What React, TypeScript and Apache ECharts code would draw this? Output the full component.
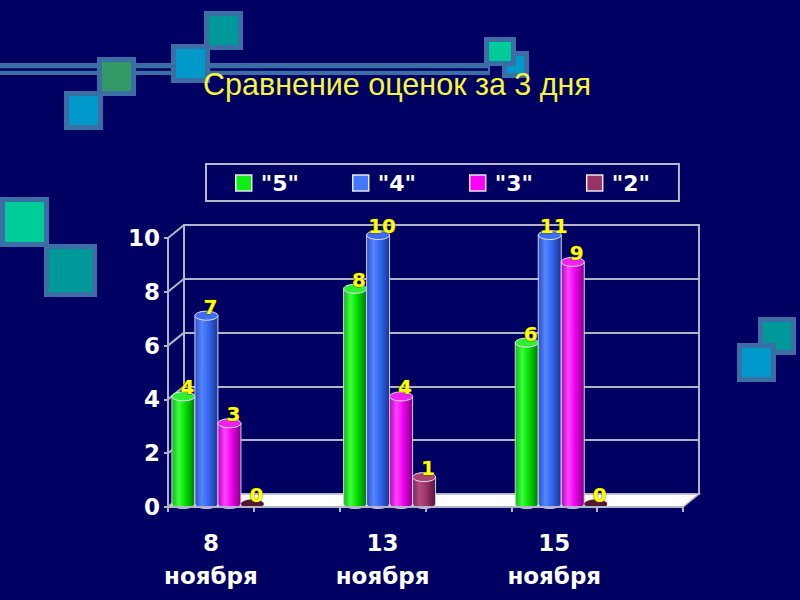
import React, { useEffect, useRef } from "react";
import * as echarts from "echarts";

// ---- data ----
const categories = ["8\nноября", "13\nноября", "15\nноября"];
const seriesNames = ['"5"', '"4"', '"3"', '"2"'];
const grade5 = [4, 8, 6];
const grade4 = [7, 10, 11];
const grade3 = [3, 4, 9];
const grade2 = [0, 1, 0];
const yTicks = [0, 2, 4, 6, 8, 10];
const titleText = "Сравнение оценок за 3 дня";

// ---- layout / style ----
const BG = "#000063";
const GRID_C = "#b4b4c8";
const FRONT = { left: 168, top: 238, width: 515, height: 269 };
const DX = 16;
const DY = 13;
const BAR_W = 23;
const BAR_STEP = 23;
const GROUP_SHIFT = 7;
const BAR_LIFT = 3;
const Y_MAX = 10;
const FONT = '"DejaVu Sans", Verdana, sans-serif';

const palettes = [
  { legend: "#11ee11", body: ["#12b812", "#3cff3c", "#00dd00", "#007800"], top: "#30ee30" },
  { legend: "#4477ff", body: ["#2a4fc4", "#5585ff", "#3366ee", "#1a3390"], top: "#3f6cf5" },
  { legend: "#ff00ff", body: ["#bb00bb", "#ff44ff", "#ee00ee", "#850085"], top: "#f020f0" },
  { legend: "#993366", body: ["#7a2850", "#b04a80", "#993366", "#561636"], top: "#a8446f" },
];
const gradeValues = [grade5, grade4, grade3, grade2];

const slots = categories.flatMap((c) => [c, ""]);

function makeBarSeries(k: number) {
  const p = palettes[k];
  return {
    type: "custom",
    name: seriesNames[k],
    xAxisIndex: 0,
    yAxisIndex: 0,
    z: 3,
    silent: true,
    itemStyle: { color: p.legend },
    data: gradeValues[k].map((v, i) => [i * 2, v]),
    renderItem: (params: any, api: any) => {
      const slot = api.value(0) as number;
      const v = api.value(1) as number;
      const base = api.coord([slot, 0]);
      const top = api.coord([slot, Math.min(v, Y_MAX)]);
      const cx = base[0] + GROUP_SHIFT + (k - 1.5) * BAR_STEP;
      const yb = base[1] - BAR_LIFT;
      const yt = top[1] - BAR_LIFT;
      const rx = BAR_W / 2;
      const ry = 4.5;
      const x1 = cx - rx;
      const x2 = cx + rx;
      const grad = new echarts.graphic.LinearGradient(0, 0, 1, 0, [
        { offset: 0, color: p.body[0] },
        { offset: 0.3, color: p.body[1] },
        { offset: 0.6, color: p.body[2] },
        { offset: 1, color: p.body[3] },
      ]);
      const children: any[] = [];
      if (v > 0) {
        children.push({
          type: "path",
          shape: {
            pathData: `M${x1} ${yt} L${x1} ${yb} A${rx} ${ry} 0 0 0 ${x2} ${yb} L${x2} ${yt} Z`,
          },
          style: { fill: grad, stroke: "#d0d0f0", lineWidth: 1 },
        });
        children.push({
          type: "ellipse",
          shape: { cx, cy: yt, rx, ry },
          style: { fill: p.top, stroke: "#e4e4ff", lineWidth: 1 },
        });
      } else {
        children.push({
          type: "ellipse",
          shape: { cx, cy: yb, rx: rx, ry: 4.5 },
          style: { fill: p.body[3] },
        });
      }
      children.push({
        type: "text",
        style: {
          text: String(v),
          x: cx + 4,
          y: yt - 9,
          align: "center",
          verticalAlign: "middle",
          fill: "#ffff00",
          fontSize: 20,
          fontWeight: "bold",
          fontFamily: FONT,
          stroke: "rgba(70,70,0,0.7)",
          lineWidth: 1,
        },
      });
      return { type: "group", children };
    },
  };
}

function decoSquare(x: number, y: number, w: number, h: number, fill: string) {
  return {
    type: "rect",
    shape: { x: x + 2.5, y: y + 2.5, width: w - 5, height: h - 5 },
    style: { fill, stroke: "#3a6ea5", lineWidth: 5 },
    z: 1,
  };
}

export default function App() {
  const ref = useRef<HTMLDivElement>(null);
  useEffect(() => {
    document.body.style.margin = "0";
    const chart = echarts.init(ref.current!, null, { renderer: "svg" });
    const option: any = {
      animation: false,
      backgroundColor: BG,
      title: {
        text: titleText,
        left: 203,
        top: 68,
        padding: 0,
        z: 10,
        textStyle: {
          color: "#f5f53a",
          fontSize: 30.5,
          fontWeight: "normal",
          fontFamily: '"Liberation Sans", Arial, sans-serif',
        },
      },
      legend: {
        data: seriesNames,
        left: 206,
        top: 164,
        padding: [8, 29, 7, 29],
        borderColor: "#b8b8c8",
        borderWidth: 2,
        itemWidth: 16,
        itemHeight: 16,
        itemGap: 53,
        icon: "rect",
        selectedMode: false,
        itemStyle: { borderColor: "#e8e8e8", borderWidth: 1.5 },
        textStyle: {
          color: "#ffffff",
          fontSize: 22,
          fontWeight: "bold",
          fontFamily: FONT,
          padding: [0, 0, 0, 4],
        },
      },
      graphic: [
        { type: "rect", shape: { x: 0, y: 63, width: 490, height: 12 }, style: { fill: "#3a6ea5" }, z: 0 },
        { type: "rect", shape: { x: 0, y: 68.3, width: 488, height: 2.4 }, style: { fill: BG }, z: 0 },
        decoSquare(204, 11, 39, 39, "#009999"),
        decoSquare(171, 44, 39, 39, "#0099cc"),
        decoSquare(97, 57, 39, 39, "#339966"),
        decoSquare(64, 91, 39, 39, "#0099cc"),
        decoSquare(502, 51, 27, 27, "#0099cc"),
        decoSquare(484, 37, 32, 29, "#00cc99"),
        decoSquare(0, 197, 49, 50, "#00cc99"),
        decoSquare(44, 244, 53, 53, "#009999"),
        decoSquare(758, 317, 38, 38, "#009999"),
        decoSquare(737, 343, 39, 39, "#0099cc"),
      ],
      grid: [
        {
          left: FRONT.left,
          top: FRONT.top,
          width: FRONT.width,
          height: FRONT.height,
          containLabel: false,
          outerBoundsMode: "none",
        },
        {
          left: FRONT.left + DX,
          top: FRONT.top - DY,
          width: FRONT.width,
          height: FRONT.height,
          containLabel: false,
          outerBoundsMode: "none",
          show: true,
          borderColor: GRID_C,
          borderWidth: 2,
          backgroundColor: "transparent",
        },
      ],
      xAxis: [
        {
          gridIndex: 0,
          type: "category",
          data: slots,
          boundaryGap: true,
          z: 5,
          axisLine: { show: true, lineStyle: { color: GRID_C, width: 2 } },
          axisTick: { show: true, interval: 0, length: 5, lineStyle: { color: GRID_C, width: 2 } },
          axisLabel: {
            interval: 0,
            color: "#ffffff",
            fontSize: 23,
            fontWeight: "bold",
            fontFamily: FONT,
            lineHeight: 33,
            margin: 19,
          },
          splitLine: { show: false },
        },
        { gridIndex: 1, type: "category", data: slots, show: false },
      ],
      yAxis: [
        {
          gridIndex: 0,
          type: "value",
          min: 0,
          max: Y_MAX,
          interval: 2,
          z: 5,
          axisLine: { show: true, lineStyle: { color: GRID_C, width: 2 } },
          axisTick: { show: true, length: 4, lineStyle: { color: GRID_C, width: 2 } },
          splitLine: { show: false },
          axisLabel: { color: "#ffffff", fontSize: 23, fontWeight: "bold", fontFamily: FONT, margin: 8 },
        },
        {
          gridIndex: 1,
          type: "value",
          min: 0,
          max: Y_MAX,
          interval: 2,
          axisLine: { show: false },
          axisTick: { show: false },
          axisLabel: { show: false },
          splitLine: { show: true, lineStyle: { color: GRID_C, width: 2 } },
        },
      ],
      series: [
        {
          type: "custom",
          name: "floor",
          xAxisIndex: 0,
          yAxisIndex: 0,
          z: 1,
          silent: true,
          data: [[0, 0]],
          renderItem: (params: any) => {
            const cs = params.coordSys;
            const yb = cs.y + cs.height;
            return {
              type: "polygon",
              shape: {
                points: [
                  [cs.x, yb],
                  [cs.x + cs.width, yb],
                  [cs.x + cs.width + DX, yb - DY],
                  [cs.x + DX, yb - DY],
                ],
              },
              style: { fill: "#ffffff", stroke: GRID_C, lineWidth: 1.5 },
            };
          },
        },
        {
          type: "custom",
          name: "connectors",
          xAxisIndex: 0,
          yAxisIndex: 0,
          z: 2,
          silent: true,
          data: yTicks.map((v) => [0, v]),
          renderItem: (params: any, api: any) => {
            const cs = params.coordSys;
            const y = api.coord([0, api.value(1)])[1];
            return {
              type: "line",
              shape: { x1: cs.x, y1: y, x2: cs.x + DX, y2: y - DY },
              style: { stroke: GRID_C, lineWidth: 2 },
            };
          },
        },
        makeBarSeries(0),
        makeBarSeries(1),
        makeBarSeries(2),
        makeBarSeries(3),
      ],
    };
    chart.setOption(option);
    return () => chart.dispose();
  }, []);
  return (
    <div
      ref={ref}
      style={{ position: "fixed", left: 0, top: 0, width: 800, height: 600 }}
    />
  );
}
